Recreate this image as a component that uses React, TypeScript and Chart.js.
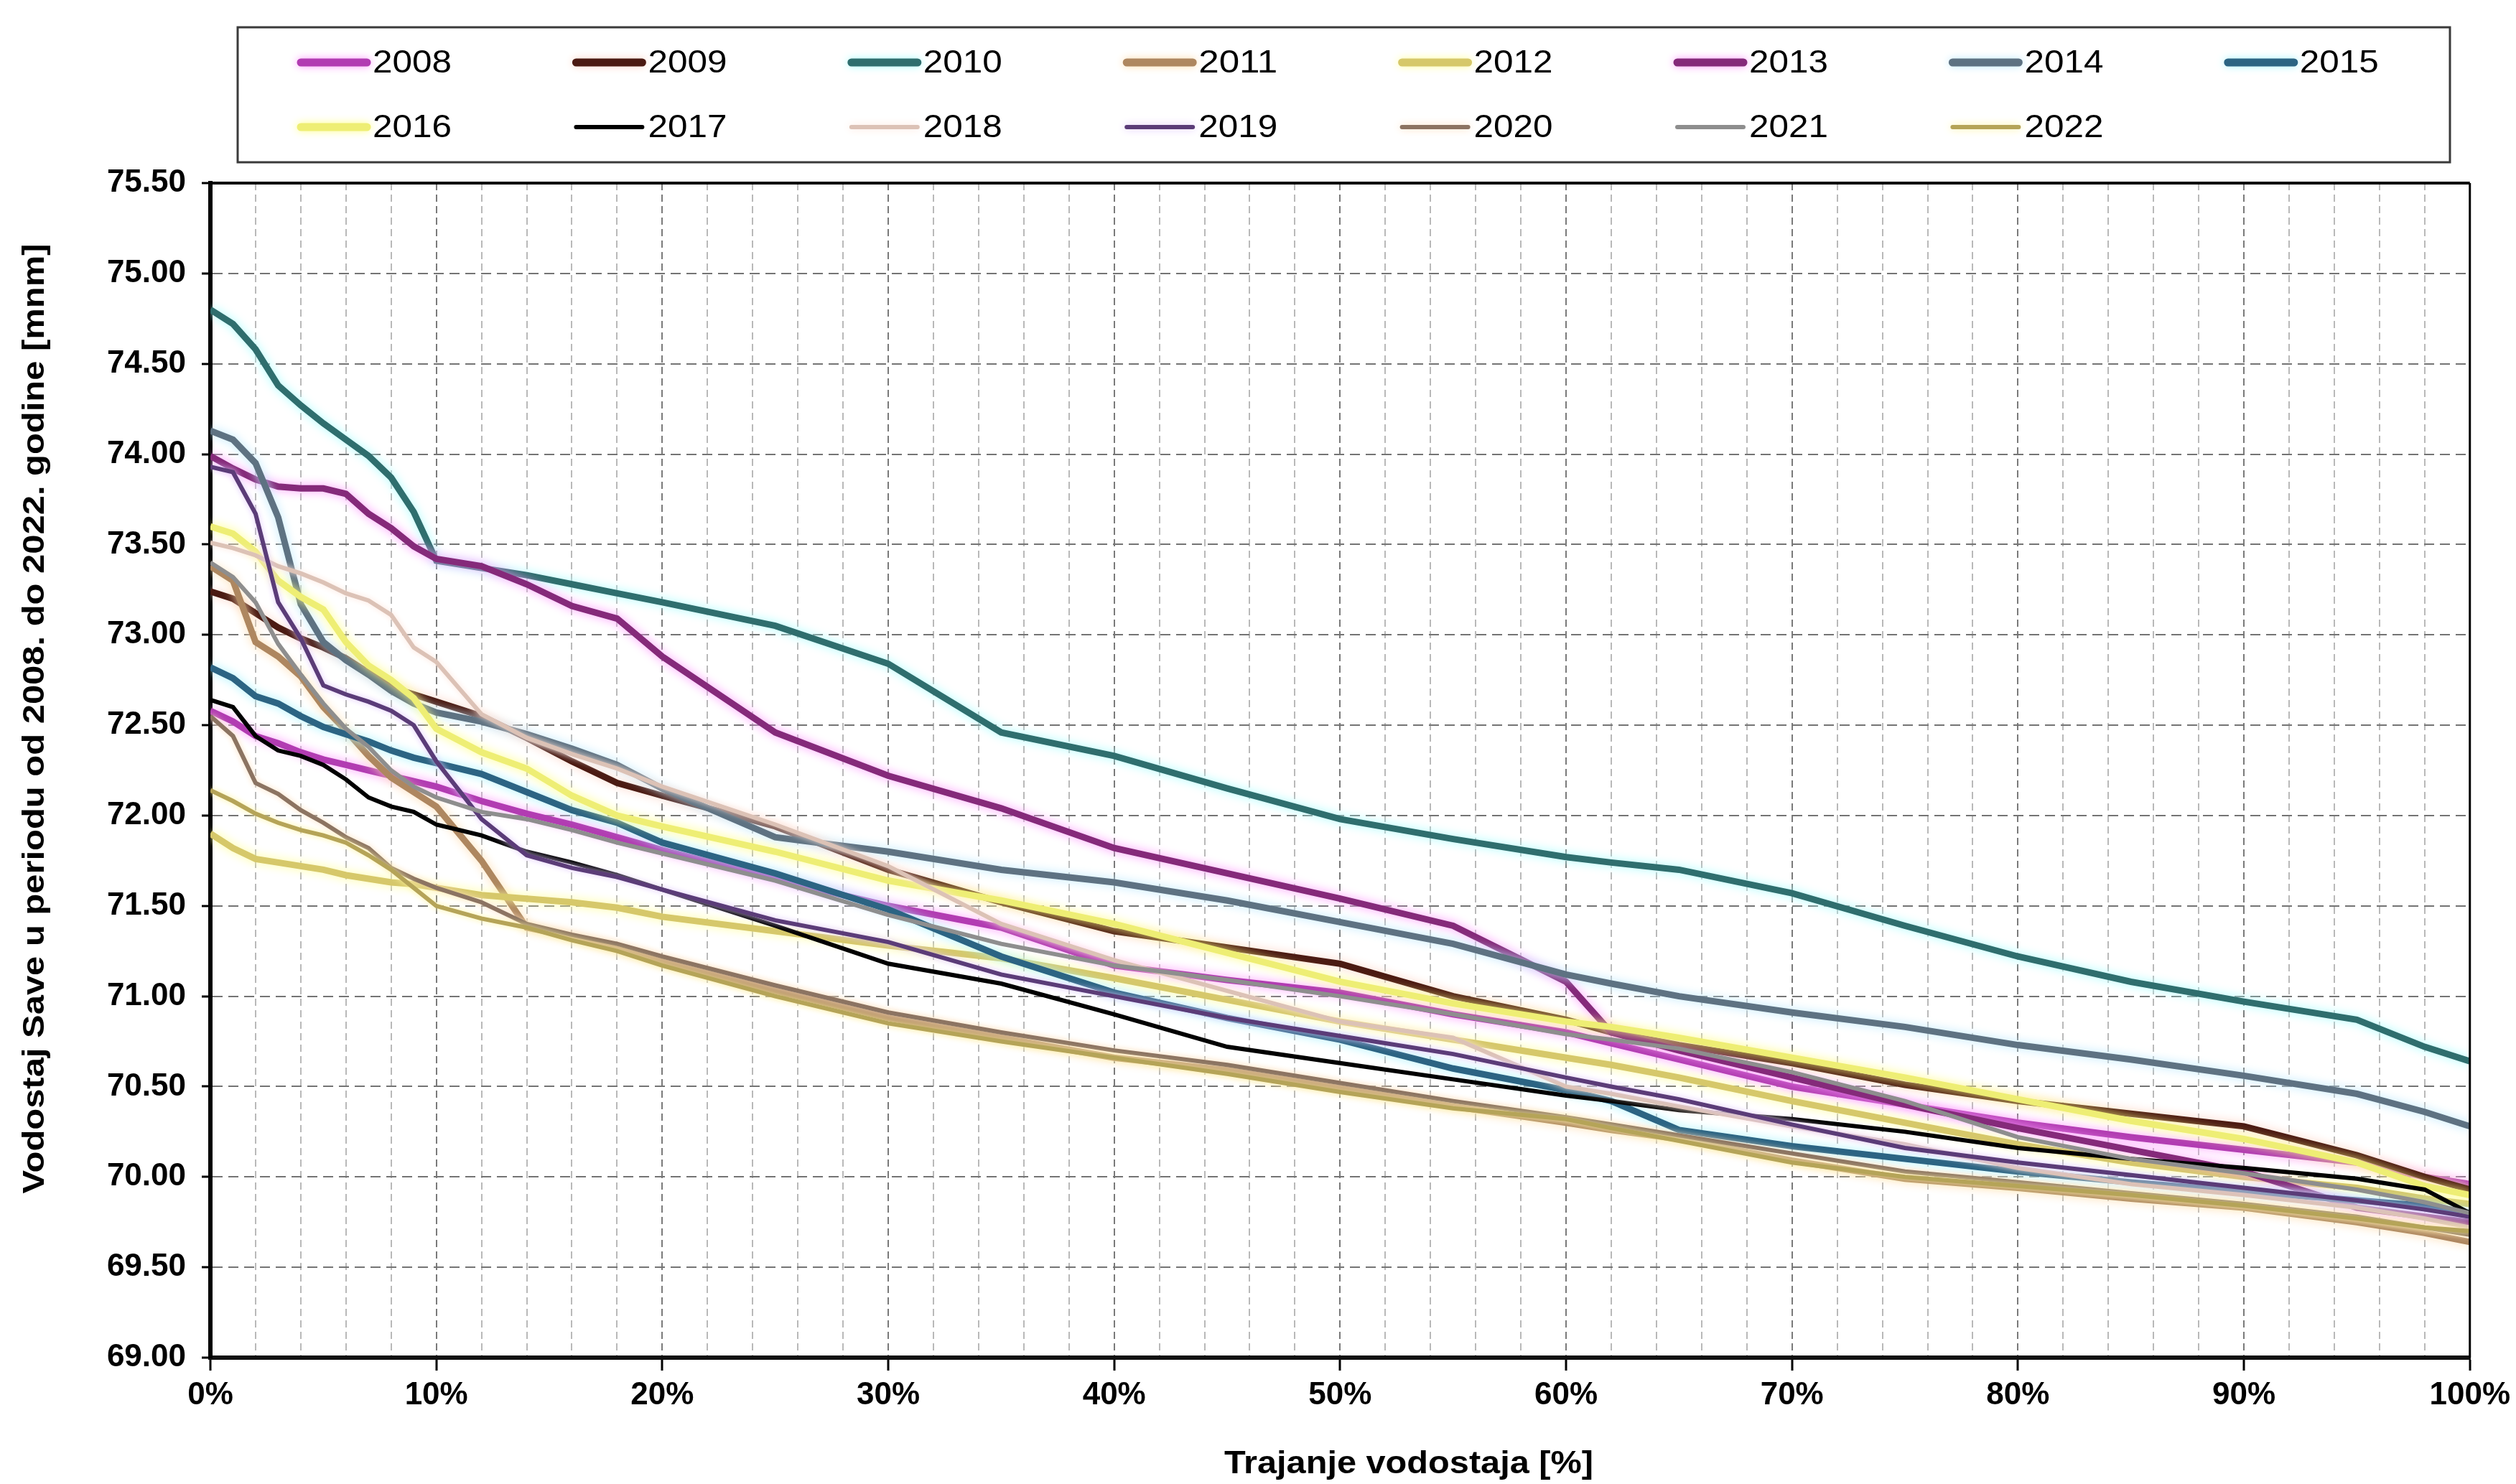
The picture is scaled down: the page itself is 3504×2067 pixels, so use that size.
import React, { useEffect, useRef } from 'react';
import { Chart, registerables } from 'chart.js';

Chart.register(...registerables);

// ---------- data ----------
const durations = [0, 1, 2, 3, 4, 5, 6, 7, 8, 9, 10, 12, 14, 16, 18, 20, 25, 30, 35, 40, 45, 50, 55, 60, 62, 65, 70, 75, 80, 85, 90, 95, 98, 100];

const years = ['2008', '2009', '2010', '2011', '2012', '2013', '2014', '2015', '2016', '2017', '2018', '2019', '2020', '2021', '2022'];

const v2008 = [72.58, 72.52, 72.44, 72.40, 72.35, 72.31, 72.28, 72.25, 72.22, 72.19, 72.16, 72.08, 72.01, 71.95, 71.88, 71.81, 71.65, 71.50, 71.38, 71.17, 71.09, 71.02, 70.90, 70.80, 70.74, 70.65, 70.50, 70.40, 70.30, 70.22, 70.15, 70.08, 70.00, 69.96];
const v2009 = [73.24, 73.20, 73.12, 73.04, 72.98, 72.93, 72.87, 72.79, 72.71, 72.67, 72.63, 72.55, 72.43, 72.30, 72.18, 72.11, 71.94, 71.70, 71.52, 71.36, 71.27, 71.18, 71.00, 70.87, 70.80, 70.73, 70.63, 70.51, 70.42, 70.35, 70.28, 70.12, 70.00, 69.93];
const v2010 = [74.80, 74.72, 74.58, 74.38, 74.27, 74.17, 74.08, 73.99, 73.87, 73.68, 73.41, 73.37, 73.33, 73.28, 73.23, 73.18, 73.05, 72.84, 72.46, 72.33, 72.15, 71.98, 71.87, 71.77, 71.74, 71.70, 71.57, 71.39, 71.22, 71.08, 70.97, 70.87, 70.72, 70.64];
const v2011 = [73.38, 73.30, 72.96, 72.88, 72.77, 72.60, 72.47, 72.33, 72.21, 72.13, 72.05, 71.75, 71.38, 71.33, 71.26, 71.19, 71.03, 70.88, 70.77, 70.66, 70.59, 70.49, 70.39, 70.30, 70.26, 70.21, 70.09, 69.99, 69.94, 69.88, 69.83, 69.75, 69.69, 69.64];
const v2012 = [71.90, 71.82, 71.76, 71.74, 71.72, 71.70, 71.67, 71.65, 71.63, 71.62, 71.60, 71.56, 71.54, 71.52, 71.49, 71.44, 71.36, 71.28, 71.21, 71.10, 70.98, 70.86, 70.76, 70.66, 70.62, 70.55, 70.42, 70.30, 70.18, 70.08, 70.00, 69.94, 69.88, 69.85];
const v2013 = [73.99, 73.92, 73.86, 73.82, 73.81, 73.81, 73.78, 73.67, 73.59, 73.49, 73.42, 73.38, 73.28, 73.16, 73.09, 72.88, 72.46, 72.22, 72.04, 71.82, 71.68, 71.54, 71.39, 71.08, 70.80, 70.70, 70.55, 70.40, 70.27, 70.15, 70.03, 69.83, 69.78, 69.75];
const v2014 = [74.13, 74.08, 73.95, 73.65, 73.17, 72.96, 72.86, 72.78, 72.69, 72.62, 72.57, 72.52, 72.45, 72.37, 72.28, 72.15, 71.88, 71.80, 71.70, 71.63, 71.53, 71.41, 71.29, 71.12, 71.07, 71.00, 70.91, 70.83, 70.73, 70.65, 70.56, 70.46, 70.36, 70.28];
const v2015 = [72.82, 72.76, 72.66, 72.62, 72.55, 72.49, 72.45, 72.41, 72.36, 72.32, 72.29, 72.23, 72.13, 72.03, 71.96, 71.85, 71.68, 71.48, 71.22, 71.02, 70.88, 70.76, 70.60, 70.48, 70.42, 70.26, 70.17, 70.10, 70.03, 69.97, 69.92, 69.87, 69.84, 69.80];
const v2016 = [73.60, 73.56, 73.46, 73.30, 73.21, 73.14, 72.96, 72.83, 72.75, 72.65, 72.48, 72.35, 72.26, 72.11, 72.00, 71.94, 71.80, 71.64, 71.53, 71.40, 71.24, 71.08, 70.96, 70.86, 70.83, 70.77, 70.66, 70.55, 70.43, 70.31, 70.21, 70.08, 69.95, 69.90];
const v2017 = [72.64, 72.60, 72.44, 72.36, 72.33, 72.28, 72.20, 72.10, 72.05, 72.02, 71.95, 71.89, 71.80, 71.74, 71.67, 71.59, 71.39, 71.18, 71.07, 70.90, 70.72, 70.63, 70.54, 70.45, 70.42, 70.37, 70.32, 70.25, 70.16, 70.10, 70.05, 69.99, 69.93, 69.80];
const v2018 = [73.51, 73.48, 73.44, 73.38, 73.34, 73.29, 73.23, 73.19, 73.11, 72.93, 72.85, 72.56, 72.43, 72.34, 72.26, 72.16, 71.95, 71.72, 71.40, 71.20, 71.03, 70.86, 70.77, 70.50, 70.46, 70.39, 70.28, 70.18, 70.05, 69.96, 69.90, 69.83, 69.77, 69.72];
const v2019 = [73.93, 73.90, 73.67, 73.18, 72.98, 72.72, 72.67, 72.63, 72.58, 72.50, 72.30, 71.98, 71.78, 71.71, 71.66, 71.59, 71.42, 71.30, 71.12, 71.00, 70.88, 70.78, 70.68, 70.55, 70.50, 70.43, 70.29, 70.16, 70.08, 70.01, 69.94, 69.87, 69.82, 69.78];
const v2020 = [72.55, 72.44, 72.18, 72.12, 72.03, 71.96, 71.88, 71.82, 71.71, 71.65, 71.60, 71.52, 71.40, 71.34, 71.29, 71.22, 71.06, 70.91, 70.80, 70.70, 70.62, 70.52, 70.42, 70.33, 70.29, 70.23, 70.13, 70.03, 69.97, 69.91, 69.85, 69.78, 69.72, 69.68];
const v2021 = [73.40, 73.32, 73.18, 72.95, 72.78, 72.62, 72.48, 72.38, 72.25, 72.16, 72.10, 72.02, 71.98, 71.92, 71.85, 71.79, 71.64, 71.45, 71.29, 71.17, 71.09, 71.00, 70.90, 70.79, 70.76, 70.71, 70.58, 70.42, 70.22, 70.10, 70.02, 69.93, 69.86, 69.80];
const v2022 = [72.14, 72.08, 72.01, 71.96, 71.92, 71.89, 71.85, 71.78, 71.70, 71.60, 71.50, 71.43, 71.38, 71.31, 71.25, 71.17, 71.00, 70.85, 70.75, 70.66, 70.57, 70.47, 70.38, 70.32, 70.27, 70.20, 70.08, 70.00, 69.95, 69.90, 69.84, 69.77, 69.72, 69.70];

const seriesValues = [v2008, v2009, v2010, v2011, v2012, v2013, v2014, v2015, v2016, v2017, v2018, v2019, v2020, v2021, v2022];

const yMin = 69.0;
const yMax = 75.5;
const yStep = 0.5;
const xStep = 2;
const xLabelStep = 10;

const yTitle = 'Vodostaj Save u periodu od 2008. do 2022. godine [mnm]';
const xTitle = 'Trajanje vodostaja [%]';

// ---------- styles ----------
const lineColors = ['#B23CB2', '#4B1A12', '#2F6E6E', '#AE8760', '#D6C86A', '#852A7A', '#5E7282', '#2C6483', '#EEEE74', '#000000', '#DCC2B6', '#5B3C78', '#8C7462', '#8E8E8E', '#B5A458'];
const glowColors = ['#FF9CFF', '#FFD6C8', '#A8FFFF', '#FFDDB0', '#FFFF9C', '#FF9CFF', '#BFEAFF', '#A8F4FF', '#FFFF88', 'rgba(0,0,0,0)', '#FFE6DC', '#E0C8FF', '#FFE0C0', 'rgba(0,0,0,0)', '#FFF4A0'];
const thickSeries = [true, true, true, true, true, true, true, true, true, false, false, false, false, false, false];

const FONT = "'Liberation Sans', Arial, Helvetica, sans-serif";

const W = 3504;
const H = 2067;

export default function App() {
  const canvasRef = useRef<HTMLCanvasElement | null>(null);

  useEffect(() => {
    const canvas = canvasRef.current;
    if (!canvas) return;
    Chart.defaults.font.family = FONT;

    const isMajor = (v: number) => Math.abs(v / xLabelStep - Math.round(v / xLabelStep)) < 1e-6;

    const glowPlugin = {
      id: 'glow',
      beforeDatasetDraw(chart: any, args: any) {
        const ctx = chart.ctx;
        ctx.save();
        ctx.shadowColor = glowColors[args.index];
        ctx.shadowBlur = thickSeries[args.index] ? 14 : 8;
      },
      afterDatasetDraw(chart: any) {
        chart.ctx.restore();
      },
    };

    const decorPlugin = {
      id: 'decor',
      afterDraw(chart: any) {
        const ctx = chart.ctx as CanvasRenderingContext2D;
        const ca = chart.chartArea;
        ctx.save();
        // top and right frame
        ctx.strokeStyle = '#000';
        ctx.lineWidth = 4;
        ctx.beginPath();
        ctx.moveTo(ca.left, ca.top);
        ctx.lineTo(ca.right, ca.top);
        ctx.stroke();
        ctx.lineWidth = 3;
        ctx.beginPath();
        ctx.moveTo(ca.right, ca.top);
        ctx.lineTo(ca.right, ca.bottom);
        ctx.stroke();

        // legend box
        const lx = 331, ly = 38, lw = 3081, lh = 188;
        ctx.lineWidth = 3;
        ctx.strokeStyle = '#3a3a3a';
        ctx.strokeRect(lx, ly, lw, lh);
        const cols = 8;
        const colW = 383.4;
        const rowH = 90;
        chart.data.datasets.forEach((ds: any, i: number) => {
          const col = i % cols;
          const row = Math.floor(i / cols);
          const x0 = 413 + col * colW;
          const y = 87 + row * rowH;
          ctx.save();
          ctx.shadowColor = glowColors[i];
          ctx.shadowBlur = 12;
          ctx.strokeStyle = ds.borderColor;
          ctx.lineWidth = thickSeries[i] ? 11 : 6;
          ctx.lineCap = 'round';
          ctx.beginPath();
          ctx.moveTo(x0 + 6, y);
          ctx.lineTo(x0 + 98, y);
          ctx.stroke();
          ctx.restore();
          ctx.save();
          ctx.font = `44px ${FONT}`;
          ctx.fillStyle = '#000';
          ctx.textAlign = 'left';
          ctx.textBaseline = 'middle';
          const w = ctx.measureText(ds.label).width;
          ctx.translate(x0 + 106, y + 2);
          ctx.scale(110 / w, 1);
          ctx.fillText(ds.label, 0, 0);
          ctx.restore();
        });

        // axis titles
        ctx.fillStyle = '#000';
        ctx.textAlign = 'center';
        ctx.textBaseline = 'middle';
        ctx.save();
        ctx.font = `bold 42px ${FONT}`;
        ctx.translate(49, 1001);
        ctx.rotate(-Math.PI / 2);
        const wy = ctx.measureText(yTitle).width;
        ctx.scale(1323 / wy, 1);
        ctx.fillText(yTitle, 0, 0);
        ctx.restore();

        ctx.save();
        ctx.font = `bold 44px ${FONT}`;
        ctx.translate(1962, 2040);
        const wx = ctx.measureText(xTitle).width;
        ctx.scale(514 / wx, 1);
        ctx.fillText(xTitle, 0, 0);
        ctx.restore();

        ctx.restore();
      },
    };

    const datasets = years.map((yr, i) => ({
      label: yr,
      data: durations.map((d, j) => ({ x: d, y: seriesValues[i][j] })),
      borderColor: lineColors[i],
      backgroundColor: lineColors[i],
      borderWidth: thickSeries[i] ? 9 : 6,
      pointRadius: 0,
      tension: 0,
      fill: false,
      order: years.length - i,
    }));

    const chart = new Chart(canvas, {
      type: 'line',
      data: { datasets },
      options: {
        responsive: false,
        animation: false,
        devicePixelRatio: 1,
        layout: { padding: { top: 255, right: 63, bottom: 0, left: 0 } },
        plugins: {
          legend: { display: false },
          tooltip: { enabled: false },
          title: { display: false },
        },
        scales: {
          x: {
            type: 'linear',
            min: 0,
            max: 100,
            ticks: {
              stepSize: xStep,
              autoSkip: false,
              maxRotation: 0,
              minRotation: 0,
              padding: 8,
              color: '#000',
              font: { size: 44, weight: 'bold', family: FONT },
              callback: (v: any) => (isMajor(Number(v)) ? `${Math.round(Number(v))}%` : ''),
            },
            grid: {
              color: (c: any) => (c.tick && isMajor(c.tick.value) ? '#7a7a7a' : '#b9b9b9'),
              lineWidth: 2,
              tickLength: 18,
              tickWidth: 3,
              tickColor: (c: any) => (c.tick && isMajor(c.tick.value) ? '#000' : 'rgba(0,0,0,0)'),
            },
            border: { display: true, color: '#111', width: 6, dash: [10, 6] },
            afterFit: (s: any) => {
              s.height = H - 1891;
            },
          },
          y: {
            type: 'linear',
            min: yMin,
            max: yMax,
            ticks: {
              stepSize: yStep,
              autoSkip: false,
              padding: 22,
              color: '#000',
              font: { size: 44, weight: 'bold', family: FONT },
              callback: (v: any) => Number(v).toFixed(2),
            },
            grid: {
              color: '#747474',
              lineWidth: 2,
              tickLength: 12,
              tickWidth: 3,
              tickColor: '#000',
            },
            border: { display: true, color: '#000', width: 6, dash: [14, 8] },
            afterFit: (s: any) => {
              s.width = 293;
            },
          },
        },
      },
      plugins: [glowPlugin, decorPlugin],
    } as any);

    return () => {
      chart.destroy();
    };
  }, []);

  return (
    <div style={{ position: 'fixed', left: 0, top: 0, width: W, height: H, background: '#fff' }}>
      <canvas ref={canvasRef} width={W} height={H} style={{ display: 'block', width: W, height: H }} />
    </div>
  );
}
